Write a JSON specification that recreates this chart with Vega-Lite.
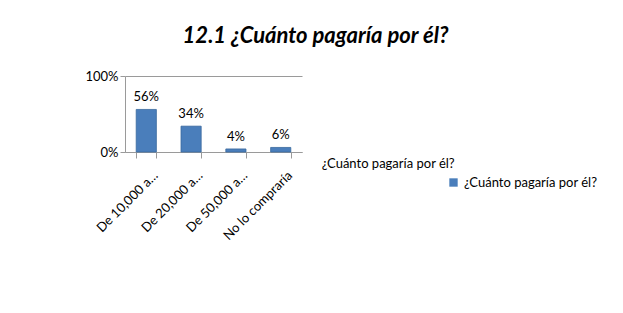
{
  "$schema": "https://vega.github.io/schema/vega-lite/v6.json",
  "width": 177,
  "height": 76,
  "autosize": {"type": "none"},
  "padding": {"left": 125, "top": 76, "right": 321, "bottom": 161},
  "background": "white",
  "title": {
    "text": "12.1 ¿Cuánto pagaría por él?",
    "font": "Lato",
    "fontSize": 22,
    "fontWeight": "bold",
    "fontStyle": "italic",
    "color": "#000000",
    "anchor": "middle",
    "dx": 102,
    "offset": 22
  },
  "data": {
    "values": [
      {"categoria": "De 10,000 a…", "valor": 0.56, "serie": "¿Cuánto pagaría por él?"},
      {"categoria": "De 20,000 a…", "valor": 0.34, "serie": "¿Cuánto pagaría por él?"},
      {"categoria": "De 50,000 a…", "valor": 0.04, "serie": "¿Cuánto pagaría por él?"},
      {"categoria": "No lo compraría", "valor": 0.06, "serie": "¿Cuánto pagaría por él?"}
    ]
  },
  "encoding": {
    "x": {
      "field": "categoria",
      "type": "nominal",
      "sort": null,
      "scale": {"paddingInner": 0.55, "paddingOuter": 0.25},
      "axis": {
        "title": null,
        "labelAngle": -45,
        "labelAlign": "right",
        "labelBaseline": "middle",
        "labelFont": "Lato",
        "labelFontSize": 13,
        "labelColor": "#000000",
        "labelPadding": 15,
        "labelOffset": 9,
        "domainColor": "#9a9a9a",
        "tickColor": "#9a9a9a",
        "tickBand": "extent",
        "tickSize": 6
      }
    },
    "y": {
      "field": "valor",
      "type": "quantitative",
      "scale": {"domain": [0, 1]},
      "axis": {
        "title": null,
        "values": [0, 1],
        "format": ".0%",
        "labelFont": "Lato",
        "labelFontSize": 13,
        "labelColor": "#000000",
        "domainColor": "#9a9a9a",
        "tickColor": "#9a9a9a",
        "grid": true,
        "gridColor": "#9a9a9a"
      }
    }
  },
  "layer": [
    {
      "mark": {"type": "bar", "stroke": "#3a6a9e", "strokeWidth": 0.8},
      "encoding": {
        "color": {
          "field": "serie",
          "type": "nominal",
          "scale": {"range": ["#4a7ebb"]},
          "legend": {
            "title": null,
            "orient": "none",
            "legendX": 322,
            "legendY": 100,
            "symbolType": "square",
            "symbolSize": 70,
            "symbolStrokeWidth": 0,
            "labelFont": "Lato",
            "labelFontSize": 13,
            "labelColor": "#000000"
          }
        }
      }
    },
    {
      "mark": {"type": "text", "dy": -12, "font": "Lato", "fontSize": 13, "color": "#000000"},
      "encoding": {
        "text": {"field": "valor", "type": "quantitative", "format": ".0%"}
      }
    },
    {
      "data": {"values": [{"etiqueta": "¿Cuánto pagaría por él?", "categoria": "No lo compraría", "valor": 0}]},
      "mark": {"type": "text", "align": "left", "baseline": "middle", "dx": 41, "dy": 12, "font": "Lato", "fontSize": 13, "color": "#000000"},
      "encoding": {
        "text": {"field": "etiqueta"}
      }
    }
  ],
  "config": {"view": {"stroke": null}}
}
